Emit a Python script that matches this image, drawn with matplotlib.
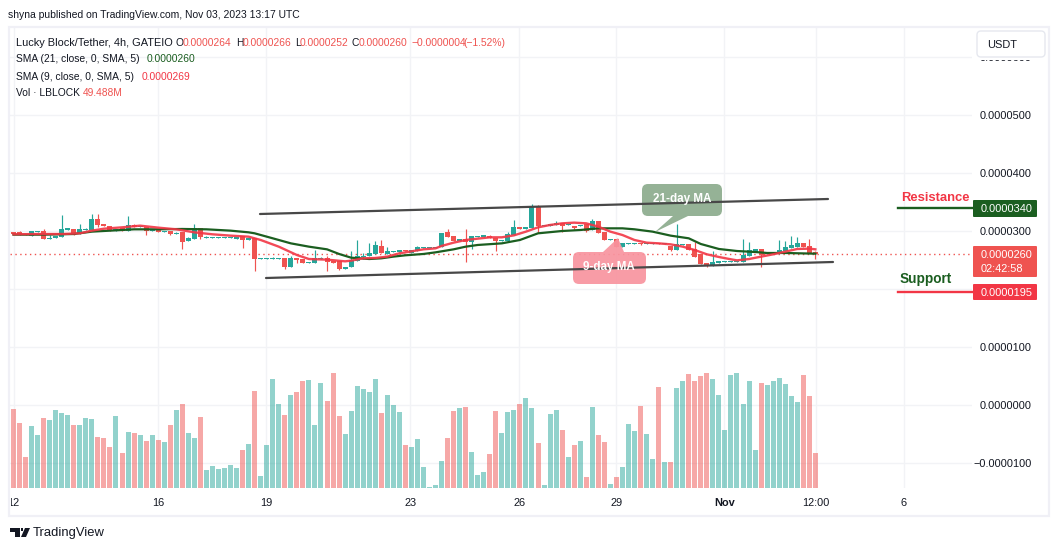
import matplotlib
matplotlib.use('Agg')
import matplotlib.pyplot as plt
from matplotlib.patches import FancyBboxPatch, Polygon, Rectangle

plt.rcParams['font.family'] = ['Liberation Sans', 'DejaVu Sans']

# prices are in units of 0.0000001 USDT, volume in millions
opens = [297.7, 298.3, 295.4, 292.0, 298.3, 299.4, 285.6, 288.5, 290.2, 302.3,
         303.5, 294.3, 301.7, 302.3, 320.7, 312.1, 308.6, 300.6, 304.6, 299.4,
         310.9, 306.9, 306.3, 300.6, 303.5, 298.3, 299.4, 295.4, 297.7, 283.3,
         286.2, 305.2, 288.5, 288.5, 288.5, 288.5, 288.5, 286.8, 292.0, 285.1,
         288.0, 252.3, 252.3, 252.3, 252.3, 253.5, 237.9, 253.5, 251.7, 245.4,
         245.4, 251.7, 252.9, 248.9, 248.9, 235.1, 237.9, 247.7, 255.8, 257.5,
         259.8, 274.2, 260.4, 263.8, 263.8, 267.2, 262.7, 266.1, 270.7, 270.7,
         270.7, 272.4, 298.9, 291.4, 282.2, 286.2, 281.6, 289.7, 289.7, 291.4,
         288.0, 283.3, 282.8, 293.1, 306.3, 304.0, 305.2, 343.1, 308.6, 309.2,
         310.9, 313.8, 309.8, 308.6, 309.2, 311.5, 301.7, 317.8, 298.3, 284.5,
         286.2, 272.4, 278.2, 278.2, 279.9, 277.6, 278.2, 279.9, 278.2, 274.7,
         267.8, 275.9, 277.0, 269.0, 259.8, 245.4, 240.2, 244.8, 246.6, 246.6,
         246.6, 247.1, 257.5, 264.4, 268.4, 259.8, 259.8, 259.8, 265.5, 270.1,
         272.4, 279.3, 274.2, 264.0]
closes = [294.3, 293.1, 292.5, 299.4, 299.4, 286.2, 287.4, 291.4, 302.9, 304.6,
          293.7, 302.9, 303.5, 320.7, 310.4, 309.2, 300.6, 302.9, 300.0, 309.8,
          306.3, 308.6, 300.6, 302.3, 298.9, 299.4, 295.4, 297.1, 281.6, 287.4,
          305.2, 290.2, 289.7, 289.7, 289.7, 289.7, 289.7, 289.7, 285.1, 288.5,
          252.3, 253.5, 253.5, 253.5, 253.5, 237.4, 253.5, 250.0, 245.4, 247.1,
          253.5, 253.5, 246.6, 245.4, 235.1, 237.4, 250.0, 256.9, 257.5, 262.1,
          275.9, 261.5, 265.5, 265.5, 267.2, 265.5, 267.2, 272.4, 272.4, 272.4,
          272.4, 297.1, 289.7, 282.8, 285.6, 280.5, 291.4, 291.4, 293.1, 288.0,
          283.3, 284.5, 294.8, 306.9, 303.5, 306.9, 341.4, 308.6, 310.4, 312.7,
          314.4, 308.6, 311.5, 305.2, 310.4, 300.6, 317.8, 296.6, 284.5, 286.2,
          272.4, 279.3, 279.9, 279.9, 277.0, 279.9, 279.3, 277.0, 279.3, 267.8,
          277.0, 277.0, 267.8, 255.2, 243.7, 239.6, 246.0, 248.3, 248.3, 248.3,
          248.3, 258.6, 266.7, 268.4, 258.6, 261.5, 261.5, 266.7, 272.4, 275.9,
          279.3, 272.4, 262.1, 260.0]
highs = [297.7, 300.0, 295.4, 299.4, 299.4, 303.5, 293.1, 291.4, 327.6, 304.6,
         303.5, 312.1, 305.2, 329.3, 329.3, 312.1, 308.6, 302.9, 304.6, 325.3,
         312.7, 308.6, 306.3, 302.3, 303.5, 299.4, 299.4, 298.9, 297.7, 290.2,
         312.1, 305.2, 291.4, 289.7, 289.7, 289.7, 289.7, 289.7, 292.0, 288.5,
         288.0, 253.5, 253.5, 254.6, 253.5, 253.5, 257.5, 253.5, 251.7, 247.1,
         267.2, 255.2, 257.5, 248.9, 248.9, 237.4, 265.5, 284.5, 261.5, 278.7,
         282.8, 284.5, 273.0, 265.5, 267.2, 267.2, 267.2, 274.2, 272.4, 272.4,
         272.4, 297.1, 304.0, 291.4, 285.6, 304.0, 291.4, 291.4, 293.1, 293.1,
         288.0, 284.5, 297.7, 319.0, 306.3, 306.9, 346.5, 344.8, 310.4, 312.7,
         316.7, 313.8, 311.5, 308.6, 310.4, 311.5, 320.1, 317.8, 298.3, 286.2,
         286.2, 279.3, 279.9, 279.9, 279.9, 279.9, 279.3, 279.9, 279.3, 274.7,
         311.5, 277.0, 277.0, 281.6, 259.8, 245.4, 265.5, 248.3, 248.3, 248.3,
         248.3, 286.2, 280.5, 268.4, 268.4, 261.5, 261.5, 284.5, 282.8, 291.4,
         289.7, 279.3, 286.2, 266.0]
lows = [294.3, 293.1, 292.5, 292.0, 298.3, 286.2, 285.6, 288.5, 290.2, 302.3,
        293.7, 294.3, 301.7, 302.3, 307.5, 309.2, 300.6, 300.6, 300.0, 299.4,
        306.3, 306.9, 293.1, 300.6, 298.9, 298.3, 293.1, 295.4, 269.0, 283.3,
        286.2, 286.2, 288.5, 288.5, 288.5, 288.5, 288.5, 286.8, 271.3, 285.1,
        231.0, 252.3, 252.3, 252.3, 252.3, 234.5, 237.9, 244.8, 245.4, 245.4,
        245.4, 251.7, 231.0, 245.4, 232.8, 235.1, 237.9, 247.7, 251.7, 257.5,
        259.8, 261.5, 260.4, 263.8, 263.8, 265.5, 262.7, 266.1, 270.7, 270.7,
        270.7, 272.4, 289.7, 282.8, 282.2, 247.1, 269.6, 289.7, 289.7, 288.0,
        266.1, 283.3, 282.8, 293.1, 303.5, 304.0, 305.2, 297.1, 308.6, 309.2,
        310.9, 298.3, 309.8, 302.9, 309.2, 298.9, 301.7, 296.6, 284.5, 284.5,
        272.4, 272.4, 278.2, 278.2, 275.9, 277.6, 278.2, 277.0, 278.2, 265.5,
        267.8, 275.9, 267.8, 255.2, 243.7, 237.4, 240.2, 244.8, 246.6, 246.6,
        246.6, 247.1, 257.5, 264.4, 237.9, 259.8, 259.8, 259.8, 265.5, 270.1,
        272.4, 272.4, 262.1, 252.0]
volumes = [111.7, 91.9, 43.8, 87.7, 74.9, 99.0, 96.1, 110.3, 106.0, 103.2,
           89.1, 89.1, 99.0, 97.6, 72.1, 70.7, 58.0, 101.8, 49.5, 79.2,
           77.8, 74.9, 66.5, 74.9, 67.9, 65.0, 89.1, 110.3, 118.8, 77.8,
           70.7, 100.4, 25.5, 31.1, 26.9, 28.3, 32.5, 28.3, 53.7, 62.2,
           137.1, 17.0, 60.8, 154.1, 118.8, 103.2, 131.5, 135.7, 151.3, 152.7,
           89.1, 148.5, 123.0, 162.6, 101.8, 76.4, 108.9, 144.2, 140.0, 135.7,
           154.1, 106.0, 131.5, 117.4, 107.5, 60.8, 58.0, 69.3, 29.7, 1.4,
           4.2, 38.2, 70.7, 108.9, 113.1, 114.5, 50.9, 18.4, 22.6, 48.1,
           108.9, 77.8, 107.5, 110.3, 118.8, 127.3, 113.1, 63.6, 4.2, 104.6,
           110.3, 82.0, 43.8, 60.8, 66.5, 15.6, 114.5, 74.9, 65.0, 5.7,
           15.6, 29.7, 90.5, 80.6, 115.9, 76.4, 41.0, 142.8, 36.8, 36.8,
           141.4, 151.3, 161.2, 151.3, 158.4, 162.6, 154.1, 131.5, 82.0, 159.8,
           162.6, 118.8, 151.3, 53.7, 148.5, 145.6, 151.3, 155.5, 147.0, 130.1,
           121.6, 159.8, 130.1, 49.5]

sma9_x = [0, 4, 8, 11, 13, 15, 18, 21, 24, 27, 30, 33, 36, 39, 41, 44, 47, 49, 52, 55,
          56, 58, 60, 62, 64, 66, 68, 70, 71, 73, 75, 77, 79, 81, 83, 85, 87, 89, 91, 93,
          95, 97, 99, 101, 103, 105, 107, 109, 111, 113, 115, 117, 119, 120, 122, 124, 126, 128, 130, 132, 133]
sma9_y = [294.3, 294.8, 294.8, 296.0, 300.6, 304.0, 306.3, 309.2, 305.8, 302.9, 297.7, 294.3, 292.0, 290.2, 284.5, 273.0, 258.6, 251.7, 250.6, 247.7,
          248.9, 252.9, 253.5, 255.8, 261.5, 264.9, 268.4, 270.1, 274.2, 279.9, 284.5, 286.8, 289.1, 289.1, 292.5, 298.9, 306.3, 310.4, 313.2, 314.4,
          313.2, 307.5, 298.9, 293.1, 284.5, 279.9, 278.7, 277.0, 273.0, 267.2, 259.8, 255.2, 251.2, 249.4, 251.7, 255.8, 259.8, 264.4, 269.0, 269.6, 268.4]
sma21_x = [0, 5, 10, 13, 16, 20, 24, 28, 32, 36, 39, 40, 43, 46, 49, 52, 54, 56, 59, 61, 63, 65, 68, 70, 73, 75, 77,
           81, 84, 87, 91, 94, 97, 101, 103, 106, 109, 112, 114, 117, 120, 123, 125, 128, 133]
sma21_y = [293.7, 293.7, 294.8, 298.9, 300.6, 302.9, 302.9, 303.5, 302.9, 300.6, 297.7, 296.0, 287.4, 278.7, 273.0, 268.4, 260.4, 254.0, 251.7, 252.9, 255.8, 258.1, 260.4, 263.2, 268.4, 273.0, 275.9,
           278.7, 284.5, 296.0, 300.0, 301.7, 304.6, 304.6, 302.9, 298.9, 292.0, 287.4, 277.6, 269.0, 265.5, 263.8, 262.1, 262.1, 260.9]

time_ticks = [0, 24, 41.9, 65.8, 83.9, 100, 117.9, 133.05, 147.7]
time_labels = ['12', '16', '19', '23', '26', '29', 'Nov', '12:00', '6']
price_ticks = [600, 500, 400, 300, 100, 0, -100]
price_labels = ['0.0000600', '0.0000500', '0.0000400', '0.0000300', '0.0000100', '0.0000000', '\u22120.0000100']
grid_prices = [600, 500, 400, 300, 200, 100, 0, -100]

last_price = 260

UP = '#26a69a'
DOWN = '#ef5350'
W, H = 1059, 551
FS = 7.9
LEG = 7.4


def to_x(px):
    return (px - 13.5) / 6.029


def to_y(py):
    return (405 - py) / 0.58


fig = plt.figure(figsize=(W / 100, H / 100), dpi=100)
ax = fig.add_axes([10 / W, 1 - 488 / H, 962 / W, 460 / H])
ax.set_xlim(to_x(10), to_x(972))
ax.set_ylim(to_y(488), to_y(28))
for s in ax.spines.values():
    s.set_visible(False)

# volume on its own scale, drawn over the grid
vol = ax.twinx()
vol.set_ylim(0, 650.4)
vol.axis('off')
xs = list(range(len(volumes)))
colors = [UP if c >= o else DOWN for o, c in zip(opens, closes)]
vol.bar(xs, volumes, width=0.83, color=colors, alpha=0.5, linewidth=0)

ax.set_axisbelow(True)
ax.set_xticks(time_ticks)
ax.set_xticklabels(time_labels, fontsize=FS, color='#131722')
ax.get_xticklabels()[6].set_fontweight('bold')
ax.set_yticks(grid_prices, minor=True)
ax.yaxis.tick_right()
ax.set_yticks(price_ticks)
ax.set_yticklabels(price_labels, fontsize=FS, color='#131722', ha='right')
ax.tick_params(axis='y', which='major', length=0, pad=43.2)
ax.tick_params(axis='y', which='minor', length=0)
ax.tick_params(axis='x', length=0, pad=7)
ax.grid(True, which='both', color='#f2f3f6', linewidth=1)

# candles
ax.vlines(xs, lows, highs, colors=colors, linewidth=0.85, zorder=3)
bottoms = [min(o, c) for o, c in zip(opens, closes)]
sizes = [abs(o - c) for o, c in zip(opens, closes)]
ax.bar(xs, sizes, bottom=bottoms, width=0.83, color=colors, linewidth=0, zorder=3)

ax.axhline(last_price, color='#ef5350', linewidth=1, linestyle=(0, (1, 2.5)), zorder=2)
ax.plot(sma21_x, sma21_y, color='#1b5e20', linewidth=1.6, zorder=4)
ax.plot(sma9_x, sma9_y, color='#f23645', linewidth=1.7, alpha=0.9, zorder=5)

# overlay in screenshot pixels for frame, badges and drawn annotations
ov = fig.add_axes([0, 0, 1, 1], zorder=10)
ov.set_xlim(0, W)
ov.set_ylim(H, 0)
ov.axis('off')
ov.patch.set_visible(False)

# the first date label is cut at the pane edge, the top price label by the button
ov.add_patch(Rectangle((4, 494), 6.5, 14, facecolor='white', edgecolor='none'))
ov.add_patch(Rectangle((975, 50), 65, 9.8, facecolor='white', edgecolor='none'))
ov.add_patch(Rectangle((9, 27), 1039.5, 489, fill=False, edgecolor='#f0f0f6', linewidth=1.6))


def rounded(x0, y0, x1, y1, color, r=3, alpha=1, edge='none'):
    ov.add_patch(FancyBboxPatch((x0 + r, y0 + r), x1 - x0 - 2 * r, y1 - y0 - 2 * r,
                                boxstyle=f'round,pad={r},rounding_size={r}',
                                facecolor=color, edgecolor=edge, alpha=alpha, linewidth=1))


# trend channel
ov.plot([260, 828], [214, 199], color='#484848', linewidth=1.6, solid_capstyle='round')
ov.plot([266, 833], [278, 262], color='#484848', linewidth=1.6, solid_capstyle='round')

# MA callouts
rounded(642, 184, 722, 216, '#8fae90', r=6, alpha=0.95)
ov.add_patch(Polygon([(673, 216), (688, 216), (655, 232)], facecolor='#8fae90', edgecolor='none', alpha=0.95))
ov.text(682, 199, '21-day MA', color='white', fontsize=8.4, fontweight='bold', ha='center', va='center')
rounded(573, 252, 646, 284, '#f8949f', r=6, alpha=0.92)
ov.add_patch(Polygon([(603, 252), (624, 252), (618, 238)], facecolor='#f8949f', edgecolor='none', alpha=0.92))
ov.text(609, 267, '9-day MA', color='white', fontsize=8.4, fontweight='bold', ha='center', va='center')

# resistance and support
ov.text(901, 198, 'Resistance', color='#f23645', fontsize=9.4, fontweight='bold', va='center')
ov.plot([898, 973], [208, 208], color='#1b5e20', linewidth=1.7)
rounded(973, 200, 1037, 217, '#1b5e20', r=1)
ov.text(981, 208.5, '0.0000340', color='white', fontsize=FS, va='center')
ov.text(900, 279, 'Support', color='#1b5e20', fontsize=9.8, fontweight='bold', va='center')
ov.plot([898, 973], [292, 292], color='#f23645', linewidth=1.7)
rounded(973, 284, 1037, 300, '#f23645', r=1)
ov.text(981, 292.5, '0.0000195', color='white', fontsize=FS, va='center')

# last price badge
rounded(973, 246, 1037, 277, '#ef5350', r=1)
ov.text(981, 255, '0.0000260', color='white', fontsize=FS, va='center')
ov.text(981, 269, '02:42:58', color='white', fontsize=FS, va='center')

# USDT button
rounded(977, 31, 1045, 57, 'white', r=4, edge='#e6e8ef')
ov.text(987, 45, 'USDT', color='#131722', fontsize=FS, va='center')

# header
ov.text(8, 15, 'shyna published on TradingView.com, Nov 03, 2023 13:17 UTC', color='#131722', fontsize=7.5, va='center')
legend_y = 42.5
ov.text(16, legend_y, 'Lucky Block/Tether, 4h, GATEIO', color='#131722', fontsize=7.9, va='center')
parts = [('O', 176, '#131722'), ('0.0000264', 183, DOWN),
         ('H', 236, '#131722'), ('0.0000266', 243, DOWN), ('L', 295, '#131722'), ('0.0000252', 300, DOWN),
         ('C', 352, '#131722'), ('0.0000260', 359, DOWN), ('\u22120.0000004', 411, DOWN), ('(\u22121.52%)', 463, DOWN)]
for s, x, c in parts:
    ov.text(x, legend_y, s, color=c, fontsize=LEG, va='center')
ov.text(16, 59.5, 'SMA (21, close, 0, SMA, 5)', color='#131722', fontsize=LEG, va='center')
ov.text(147, 59.5, '0.0000260', color='#1b5e20', fontsize=LEG, va='center')
ov.text(16, 76.5, 'SMA (9, close, 0, SMA, 5)', color='#131722', fontsize=LEG, va='center')
ov.text(142, 76.5, '0.0000269', color='#f23645', fontsize=LEG, va='center')
ov.text(16, 93.5, 'Vol \u00b7 LBLOCK', color='#131722', fontsize=LEG, va='center')
ov.text(83, 93.5, '49.488M', color=DOWN, fontsize=LEG, va='center')

# TradingView logo
ov.add_patch(Polygon([(10, 528), (20, 528), (20, 537), (15, 537), (15, 532), (10, 532)], facecolor='#131722'))
ov.add_patch(Polygon([(21, 537), (25, 528), (30, 528), (26, 537)], facecolor='#131722'))
ov.add_patch(Rectangle((20.5, 528), 2.6, 2.6, facecolor='#131722'))
ov.text(33, 533, 'TradingView', color='#131722', fontsize=9.4, va='center')

fig.savefig('out.png', dpi=100, facecolor='white')
